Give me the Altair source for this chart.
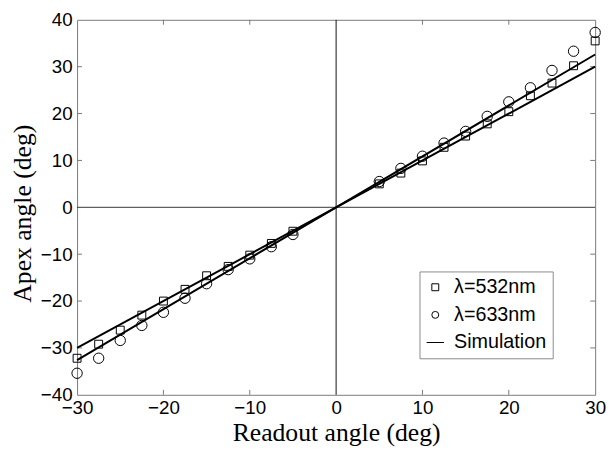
import altair as alt
import pandas as pd

# ---- data ----
readout = [-30, -27.5, -25, -22.5, -20, -17.5, -15, -12.5, -10, -7.5, -5,
           5, 7.5, 10, 12.5, 15, 17.5, 20, 22.5, 25, 27.5, 30]
apex_532 = [-32.2, -29.2, -26.2, -23.0, -20.0, -17.5, -14.6, -12.6, -10.2, -7.7, -5.1,
            5.0, 7.3, 9.9, 12.8, 15.2, 17.8, 20.4, 23.8, 26.5, 30.2, 35.5]
apex_633 = [-35.4, -32.2, -28.4, -25.2, -22.4, -19.4, -16.3, -13.3, -11.0, -8.4, -5.8,
            5.5, 8.3, 10.9, 13.7, 16.2, 19.4, 22.5, 25.5, 29.2, 33.3, 37.3]

sim_x = [-30, 0, 30]
sim_532 = [-30.0, 0.0, 30.0]
sim_633 = [-32.6, 0.0, 32.6]

x_ticks = [-20, -10, 10, 20]
y_ticks = [-30, -20, -10, 10, 20, 30]
x_labels = [-30, -20, -10, 0, 10, 20, 30]
y_labels = [-40, -30, -20, -10, 0, 10, 20, 30, 40]

series_names = ["λ=532nm", "λ=633nm", "Simulation"]

pts532 = pd.DataFrame({"x": readout, "y": apex_532, "s": series_names[0]})
pts633 = pd.DataFrame({"x": readout, "y": apex_633, "s": series_names[1]})
sim = pd.DataFrame({
    "x": sim_x + sim_x,
    "y": sim_532 + sim_633,
    "g": ["a"] * len(sim_x) + ["b"] * len(sim_x),
})
zero = pd.DataFrame({"v": [0]})
xt = pd.DataFrame({"t": x_ticks})
yt = pd.DataFrame({"t": y_ticks})

W, H = 525, 380
FRAME = "#7a7a7a"

xscale = alt.Scale(domain=[-30, 30], nice=False, zero=False)
yscale = alt.Scale(domain=[-40, 40], nice=False, zero=False)

x_axis = alt.Axis(
    title="Readout angle (deg)", values=x_labels, ticks=False, domain=False, grid=False,
    labelFont="Liberation Sans", labelFontSize=19, labelColor="black", labelPadding=4,
    labelFlush=False, labelOverlap=False,
    titleFont="Liberation Serif", titleFontSize=26, titleFontWeight="normal",
    titleColor="black", titlePadding=2,
)
y_axis = alt.Axis(
    title="Apex angle (deg)", values=y_labels, ticks=False, domain=False, grid=False,
    labelFont="Liberation Sans", labelFontSize=19, labelColor="black", labelPadding=5,
    labelFlush=False, labelOverlap=False,
    titleFont="Liberation Serif", titleFontSize=26, titleFontWeight="normal",
    titleColor="black", titlePadding=5, titleY=196,
)


def X(f):
    return alt.X(f, type="quantitative", scale=xscale, axis=x_axis)


def Y(f):
    return alt.Y(f, type="quantitative", scale=yscale, axis=y_axis)


shape_scale = alt.Scale(domain=series_names, range=["square", "circle", "M-2.5,0H2.5"])
legend = alt.Legend(
    title=None, orient="none", legendX=347, legendY=255,
    labelFont="Liberation Sans", labelFontSize=20, labelColor="black",
    symbolSize=49, symbolStrokeWidth=1, symbolStrokeColor="black",
    symbolFillColor="transparent", strokeColor="#8a8a8a", fillColor="white",
    padding=6, rowPadding=8, labelOffset=9,
)

zero_h = alt.Chart(zero).mark_rule(color="#333", strokeWidth=1).encode(y=Y("v"))
zero_v = alt.Chart(zero).mark_rule(color="#111", strokeWidth=1).encode(x=X("v"))

tick_b = alt.Chart(xt).mark_rule(color=FRAME).encode(x=X("t"), y=alt.value(H - 5), y2=alt.value(H))
tick_t = alt.Chart(xt).mark_rule(color=FRAME).encode(x=X("t"), y=alt.value(0), y2=alt.value(5))
tick_l = alt.Chart(yt).mark_rule(color=FRAME).encode(y=Y("t"), x=alt.value(0), x2=alt.value(5))
tick_r = alt.Chart(yt).mark_rule(color=FRAME).encode(y=Y("t"), x=alt.value(W - 5), x2=alt.value(W))

lines = alt.Chart(sim).mark_line(color="black", strokeWidth=2).encode(
    x=X("x"), y=Y("y"), detail="g:N"
)

p532 = alt.Chart(pts532).mark_point(filled=False, color="black", strokeWidth=1, size=64, opacity=1).encode(
    x=X("x"), y=Y("y"), shape=alt.Shape("s:N", scale=shape_scale, legend=legend)
)
p633 = alt.Chart(pts633).mark_point(filled=False, color="black", strokeWidth=1, size=110, opacity=1).encode(
    x=X("x"), y=Y("y"), shape=alt.Shape("s:N", scale=shape_scale, legend=legend)
)

chart = alt.layer(
    zero_h, zero_v, tick_b, tick_t, tick_l, tick_r, lines, p532, p633
).properties(
    width=W, height=H,
    autosize=alt.AutoSizeParams(type="none"),
    padding={"left": 70, "top": 9, "right": 12, "bottom": 56},
    background="white",
).configure_view(stroke=FRAME, strokeWidth=1)

chart.save("out.html", embed_options={"renderer": "svg", "actions": False})
